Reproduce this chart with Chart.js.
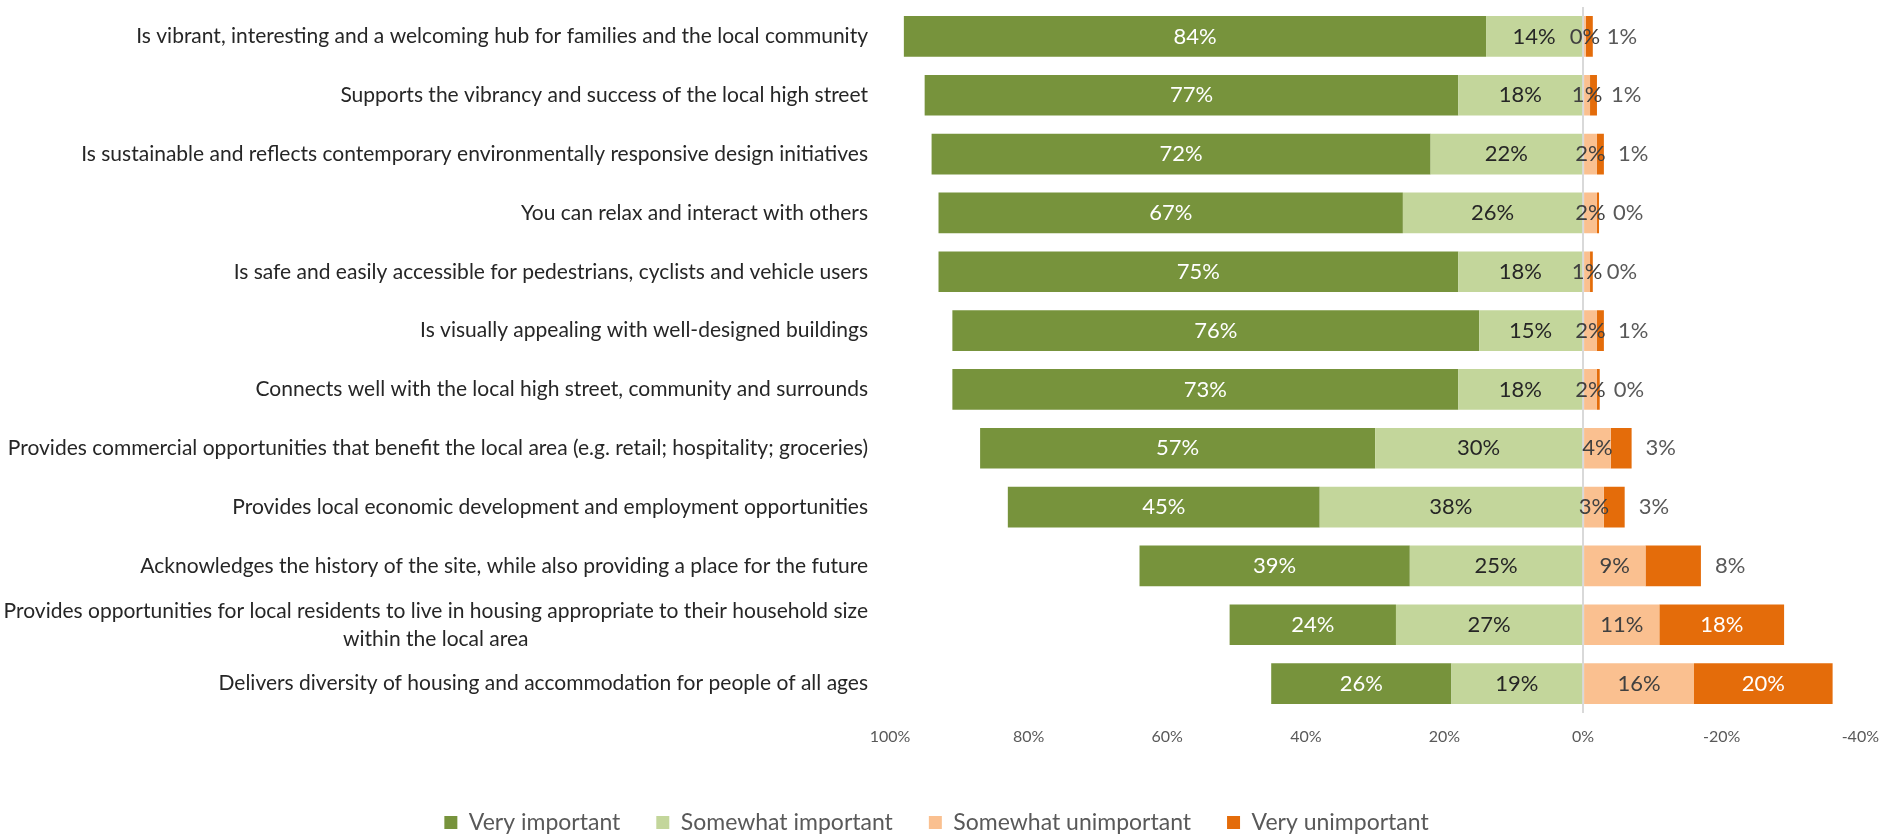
<!DOCTYPE html>
<html>
<head>
<meta charset="utf-8">
<script src="https://cdn.jsdelivr.net/npm/chart.js@4/dist/chart.umd.min.js"></script>
<style>
  html, body { margin: 0; padding: 0; background: #fff; }
  #wrap { width: 1893px; height: 838px; position: relative; }
</style>
</head>
<body>
<div id="wrap"><canvas id="chart"></canvas></div>
<script>
// categories, top to bottom
const categories = [
  'Is vibrant, interesting and a welcoming hub for families and the local community',
  'Supports the vibrancy and success of the local high street',
  'Is sustainable and reflects contemporary environmentally responsive design initiatives',
  'You can relax and interact with others',
  'Is safe and easily accessible for pedestrians, cyclists and vehicle users',
  'Is visually appealing with well-designed buildings',
  'Connects well with the local high street, community and surrounds',
  'Provides commercial opportunities that benefit the local area (e.g. retail; hospitality; groceries)',
  'Provides local economic development and employment opportunities',
  'Acknowledges the history of the site, while also providing a place for the future',
  ['Provides opportunities for local residents to live in housing appropriate to their household size', 'within the local area'],
  'Delivers diversity of housing and accommodation for people of all ages'
];

// percentages
const veryImportant       = [84, 77, 72, 67, 75, 76, 73, 57, 45, 39, 24, 26];
const somewhatImportant   = [14, 18, 22, 26, 18, 15, 18, 30, 38, 25, 27, 19];
const somewhatUnimportant = [0.4, 1, 2, 2, 1, 2, 2, 4, 3, 9, 11, 16];
const veryUnimportant     = [1, 1, 1, 0.3, 0.4, 1, 0.4, 3, 3, 8, 18, 20];

const seriesNames = ['Very important', 'Somewhat important', 'Somewhat unimportant', 'Very unimportant'];
const xTicks = [100, 80, 60, 40, 20, 0, -20, -40];

const FONT = 'Lato, "Open Sans", sans-serif';

// draws the percentages on the bars
const barLabels = {
  id: 'barLabels',
  afterDatasetsDraw(chart) {
    const ctx = chart.ctx;
    ctx.save();
    ctx.font = '22px ' + FONT;
    ctx.textBaseline = 'middle';
    chart.data.datasets.forEach((ds, di) => {
      const meta = chart.getDatasetMeta(di);
      meta.data.forEach((bar, i) => {
        const txt = Math.round(Math.abs(ds.data[i])) + '%';
        const left = Math.min(bar.x, bar.base);
        const right = Math.max(bar.x, bar.base);
        const w = right - left;
        if (ds.label === 'Very unimportant' && w < 70) {
          ctx.fillStyle = '#595959';
          ctx.textAlign = 'left';
          ctx.fillText(txt, right + 14, bar.y);
        } else {
          ctx.fillStyle = ds.labelColor;
          ctx.textAlign = 'center';
          ctx.fillText(txt, (left + right) / 2, bar.y);
        }
      });
    });
    ctx.restore();
  }
};

// draws the category names, right aligned, centred block for wrapped ones
const catLabels = {
  id: 'catLabels',
  afterDraw(chart) {
    const ctx = chart.ctx;
    const yScale = chart.scales.y;
    const xRight = chart.chartArea.left - 22;
    ctx.save();
    ctx.font = '21px ' + FONT;
    ctx.fillStyle = '#262626';
    ctx.textBaseline = 'middle';
    categories.forEach((c, i) => {
      const y = yScale.getPixelForValue(i);
      if (Array.isArray(c)) {
        const maxW = Math.max(...c.map(s => ctx.measureText(s).width));
        const cx = xRight - maxW / 2;
        const lh = 28;
        ctx.textAlign = 'center';
        c.forEach((s, k) => {
          ctx.fillText(s, cx, y + (k - (c.length - 1) / 2) * lh);
        });
      } else {
        ctx.textAlign = 'right';
        ctx.fillText(c, xRight, y);
      }
    });
    ctx.restore();
  }
};

const legendRank = [1, 0, 2, 3];

const ctx = document.getElementById('chart').getContext('2d');
const chart = new Chart(ctx, {
  type: 'bar',
  data: {
    labels: categories.map((c, i) => i),
    datasets: [
      { label: seriesNames[1], data: somewhatImportant, backgroundColor: '#C3D69B', labelColor: '#262626' },
      { label: seriesNames[0], data: veryImportant, backgroundColor: '#77933C', labelColor: '#ffffff' },
      { label: seriesNames[2], data: somewhatUnimportant.map(v => -v), backgroundColor: '#FAC090', labelColor: '#404040' },
      { label: seriesNames[3], data: veryUnimportant.map(v => -v), backgroundColor: '#E46C0A', labelColor: '#ffffff' }
    ]
  },
  options: {
    indexAxis: 'y',
    responsive: true,
    maintainAspectRatio: false,
    animation: false,
    datasets: {
      bar: { barPercentage: 0.69, categoryPercentage: 1.0 }
    },
    layout: { padding: { top: 7, right: 20, left: 0, bottom: -6 } },
    scales: {
      x: {
        stacked: true,
        reverse: true,
        min: -40,
        max: 100,
        afterBuildTicks: (scale) => { scale.ticks = xTicks.map(v => ({ value: v })); },
        afterFit: (scale) => { scale.height = 62; },
        border: { display: false },
        grid: {
          drawTicks: false,
          color: (c) => (c.tick && c.tick.value === 0) ? '#d9d9d9' : 'rgba(0,0,0,0)',
          lineWidth: 2
        },
        ticks: {
          padding: 14,
          color: '#595959',
          font: { family: FONT, size: 16 },
          callback: (v) => v + '%'
        }
      },
      y: {
        stacked: true,
        afterFit: (scale) => { scale.width = 890; },
        border: { display: false },
        grid: { display: false },
        ticks: { display: false }
      }
    },
    plugins: {
      tooltip: { enabled: false },
      legend: {
        position: 'bottom',
        labels: {
          color: '#595959',
          font: { family: FONT, size: 23 },
          boxWidth: 13,
          boxHeight: 13,
          padding: 36,
          sort: (a, b) => legendRank[a.datasetIndex] - legendRank[b.datasetIndex]
        }
      }
    }
  },
  plugins: [barLabels, catLabels]
});
</script>
</body>
</html>
